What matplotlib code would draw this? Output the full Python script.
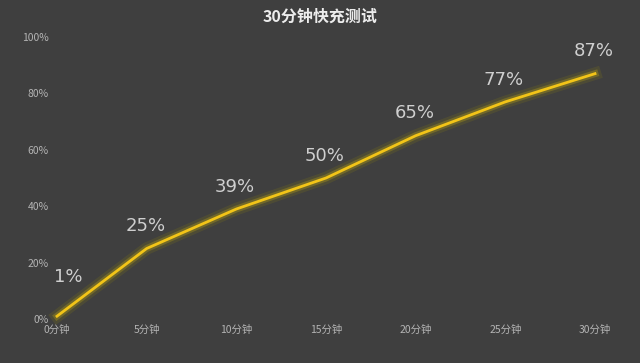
import matplotlib
matplotlib.use("Agg")
import matplotlib.pyplot as plt
import matplotlib.patheffects as pe

plt.rcParams['font.family'] = ['Noto Sans CJK SC', 'DejaVu Sans']

minutes = [0, 5, 10, 15, 20, 25, 30]
tick_labels = ["0分钟", "5分钟", "10分钟", "15分钟", "20分钟", "25分钟", "30分钟"]
charge = [1, 25, 39, 50, 65, 77, 87]
title = "30分钟快充测试"

bg = "#3f3f3f"
fig = plt.figure(figsize=(6.4, 3.63), dpi=100, facecolor=bg)
ax = fig.add_axes([57/640, 1 - 319/363, (595-57)/640, (319-37)/363])
ax.set_facecolor(bg)

ax.plot(minutes, charge, color="#f2c418", lw=2.0, solid_joinstyle="round",
        path_effects=[pe.Stroke(linewidth=9, foreground="#6a6424", alpha=0.35),
                      pe.Stroke(linewidth=5, foreground="#8a7c22", alpha=0.6),
                      pe.Normal()], clip_on=False, zorder=3)

for i, (m, c) in enumerate(zip(minutes, charge)):
    off = (8, 28) if i == 0 else (-1, 16)
    ax.annotate(f"{c}%", (m, c), xytext=off, textcoords="offset points",
                ha="center", va="center", fontsize=13, color="#cfcfcf",
                family=['DejaVu Sans'])

ax.set_xlim(0, 30)
ax.set_ylim(0, 100)
ax.set_xticks(minutes)
ax.set_xticklabels(tick_labels)
ax.set_yticks([0, 20, 40, 60, 80, 100])
ax.set_yticklabels([f"{v}%" for v in [0, 20, 40, 60, 80, 100]])
ax.tick_params(length=0, colors="#b4b4b4", labelsize=7.5)
ax.tick_params(axis="x", pad=4)
ax.tick_params(axis="y", pad=6)
for s in ax.spines.values():
    s.set_visible(False)

fig.text(0.5, 1 - 17/363, title, ha="center", va="center", fontsize=11.5,
         fontweight="bold", color="#ececec")

fig.savefig("out.png", dpi=100, facecolor=bg)
